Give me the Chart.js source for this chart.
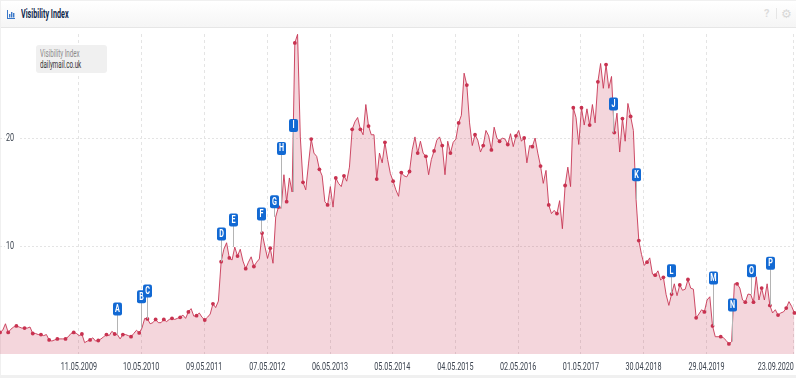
<!DOCTYPE html>
<html>
<head>
<meta charset="utf-8">
<script src="https://cdn.jsdelivr.net/npm/chart.js@4"></script>
<style>
  html, body { margin: 0; padding: 0; width: 796px; height: 378px; overflow: hidden; background: #f0f0f0; }
  #card { position: absolute; left: 1px; top: 1px; width: 795px; height: 374px; background: #fff; }
  #head {
    position: absolute; left: 0; top: 0; width: 795px; height: 26px;
    background: linear-gradient(#ffffff, #f5f5f5); border-bottom: 1px solid #e6e6e6;
  }
  #icon { position: absolute; left: 6px; top: 9px; }
  #title {
    position: absolute; left: 20px; top: 6px; font: bold 12px Roboto, sans-serif;
    color: #10294d; white-space: nowrap; transform: scaleX(0.6); transform-origin: left center;
  }
  #help { position: absolute; left: 763px; top: 6px; font: bold 11px Roboto, sans-serif; color: #dcdcdc; }
  #sep { position: absolute; left: 775px; top: 7px; width: 1px; height: 11px; background: #e6e6e6; }
  #gear { position: absolute; left: 780px; top: 6px; font: 12px "DejaVu Sans", sans-serif; color: #d8d8d8; }
  #wrap { position: absolute; left: 0; top: 0; width: 796px; height: 378px; }
  #legend {
    position: absolute; left: 36px; top: 45px; width: 71px; height: 28px; background: #f0f0f0;
    border-radius: 3px; font: 10px/11px Roboto, sans-serif;
  }
  #legend div { position: absolute; left: 4px; white-space: nowrap; transform: scaleX(0.62); transform-origin: left center; }
  #legend .a { top: 3px; color: #8a8a8a; }
  #legend .b { top: 14px; color: #333; }
</style>
</head>
<body>
<div id="card">
  <div id="head">
    <svg id="icon" width="9" height="9" viewBox="0 0 9 9">
      <rect x="0" y="0" width="1" height="9" fill="#3a78c9"/>
      <rect x="0" y="8" width="8" height="1" fill="#3a78c9"/>
      <rect x="2" y="4" width="1.4" height="3.5" fill="#3a78c9"/>
      <rect x="4" y="2" width="1.4" height="5.5" fill="#3a78c9"/>
      <rect x="6" y="3" width="1.4" height="4.5" fill="#3a78c9"/>
    </svg>
    <div id="title">Visibility Index</div>
    <div id="help">?</div>
    <div id="sep"></div>
    <div id="gear">⚙</div>
  </div>
</div>
<div id="wrap"><canvas id="chart" width="796" height="378"></canvas></div>
<div id="legend"><div class="a">Visibility Index</div><div class="b">dailymail.co.uk</div></div>

<script>
// sampled index values, three per marked dot
const visibility = [
  2.0, 2.2, 2.8,  2.0, 2.3, 2.5,  2.6, 2.5, 2.4,  2.4, 2.4, 2.5,
  1.9, 1.9, 1.8,  1.8, 1.7, 1.8,  1.3, 1.2, 1.3,  1.4, 1.4, 1.4,
  1.4, 1.6, 1.9,  2.0, 1.9, 1.7,  1.85, 1.05, 1.2,  1.3, 1.5, 1.2,
  1.25, 1.4, 1.6,  1.8, 1.7, 2.1,  1.85, 1.8, 1.4,  1.8, 1.8, 1.7,
  1.6, 1.9, 2.2,  1.95, 2.4, 3.3,  3.25, 2.8, 2.9,  3.2, 2.9, 2.9,
  3.2, 3.0, 3.2,  3.3, 3.2, 3.3,  3.4, 3.6, 3.3,  3.9, 4.2, 3.5,
  3.55, 3.8, 3.4,  3.15, 3.4, 3.7,  4.65, 4.3, 4.9,  8.55, 9.7, 10.3,
  8.9, 8.7, 9.9,  9.07, 9.7, 8.6,  7.9, 8.5, 9.0,  8.1, 8.5, 8.8,
  11.2, 10.0, 8.85,  9.8, 8.4, 12.7,  13.6, 13.5, 16.6,  14.1, 16.3, 15.0,
  28.8, 29.6, 20.1,  15.9, 15.2, 17.6,  19.9, 18.6, 18.3,  17.1, 16.5, 14.1,
  13.8, 15.5, 13.6,  16.3, 15.8, 15.5,  16.5, 16.0, 17.3,  20.8, 21.5, 21.9,
  20.8, 20.3, 23.1,  21.1, 20.3, 20.3,  16.2, 18.6, 17.7,  19.6, 18.0, 16.7,
  16.0, 15.2, 14.6,  16.8, 16.5, 16.4,  16.9, 18.9, 20.1,  18.6, 19.7, 18.6,
  18.3, 16.6, 18.0,  18.8, 19.8, 20.1,  19.3, 16.6, 19.7,  18.6, 19.6, 19.9,
  21.4, 22.1, 26.0,  24.9, 21.4, 19.3,  20.3, 19.8, 18.7,  19.3, 20.7, 20.2,
  18.9, 21.0, 20.0,  19.7, 20.0, 19.9,  19.4, 20.4, 19.2,  20.2, 20.7, 19.7,
  20.0, 17.7, 19.3,  19.2, 20.0, 18.6,  17.4, 15.8, 17.0,  13.8, 13.0, 13.3,
  13.0, 14.2, 11.6,  15.6, 17.3, 15.5,  22.8, 21.9, 19.4,  22.8, 21.2, 22.7,
  21.2, 23.1, 21.4,  25.2, 26.9, 24.6,  26.8, 24.6, 25.7,  20.5, 22.3, 18.7,
  21.8, 19.7, 23.2,  22.0, 20.7, 14.3,  10.5, 9.2, 8.2,  8.5, 8.9, 7.4,
  7.3, 7.7, 6.85,  7.1, 5.5, 4.5,  5.55, 6.5, 5.4,  6.4, 5.9, 6.0,
  6.9, 6.1, 6.0,  3.35, 3.7, 4.1,  3.9, 5.0, 5.3,  2.6, 1.6, 1.6,
  1.6, 1.5, 1.25,  0.93, 1.15, 6.5,  6.5, 6.1, 5.0,  4.8, 5.55, 5.5,
  4.8, 7.15, 5.0,  6.1, 5.0, 6.5,  4.5, 3.8, 4.1,  3.6, 3.8, 3.9,
  4.25, 4.85, 4.4,  3.8
];

const tickSamples = [0, 28.9, 51.7, 74.8, 97.9, 120.9, 143.7, 166.8, 189.8, 212.8, 235.7, 258.8, 290.8];
const tickLabels = ["", "11.05.2009", "10.05.2010", "09.05.2011", "07.05.2012", "06.05.2013", "05.05.2014",
  "04.05.2015", "02.05.2016", "01.05.2017", "30.04.2018", "29.04.2019", "23.09.2020"];

const flagLetters = ["A", "B", "C", "D", "E", "F", "G", "H", "I", "J", "K", "L", "M", "N", "O", "P"];
const flagSamples = [43, 51.8, 54, 81, 85.5, 95.6, 100.5, 103, 107.4, 224.5, 233, 245.7, 261, 268, 275, 282.2];
const flagLevels = [4.17, 5.3, 5.83, 11.1, 12.4, 12.96, 14.1, 19.03, 21.16, 23.15, 16.6, 7.7, 7.04, 4.54, 7.7, 8.4];

const canvas = document.getElementById("chart");

// the original uses a condensed face, none is installed, so squeeze all canvas text
const ctx2d = canvas.getContext("2d");
const plainFillText = ctx2d.fillText.bind(ctx2d);
ctx2d.fillText = (text, x, y) => plainFillText(text, x, y, ctx2d.measureText(text).width * 0.72);

const flagsPlugin = {
  id: "flags",
  afterDatasetsDraw(chart) {
    const { ctx, scales } = chart;
    ctx.save();
    flagLetters.forEach((letter, i) => {
      const x = Math.round(scales.x.getPixelForValue(flagSamples[i])) + 0.5;
      const cy = scales.y.getPixelForValue(flagLevels[i]);
      const tip = scales.y.getPixelForValue(visibility[Math.round(flagSamples[i])]);
      ctx.strokeStyle = "#b4b4b4";
      ctx.lineWidth = 1;
      ctx.beginPath();
      ctx.moveTo(x, cy);
      ctx.lineTo(x, tip);
      ctx.stroke();
      ctx.fillStyle = "#1269d3";
      ctx.beginPath();
      ctx.roundRect(x - 4.5, cy - 6.5, 9, 13, 2);
      ctx.fill();
      ctx.fillStyle = "#ffffff";
      ctx.font = "bold 10px Roboto, sans-serif";
      ctx.textAlign = "center";
      ctx.textBaseline = "middle";
      ctx.fillText(letter, x, cy + 0.5);
    });
    ctx.restore();
  },
};

new Chart(canvas, {
  type: "line",
  plugins: [flagsPlugin],
  data: {
    datasets: [{
      data: visibility.map((v, i) => ({ x: i, y: v })),
      borderColor: "rgba(200, 55, 85, 0.9)",
      borderWidth: 1,
      backgroundColor: "rgba(200, 50, 80, 0.2)",
      fill: "origin",
      tension: 0,
      pointRadius: (c) => (c.dataIndex % 3 === 0 ? 1.9 : 0),
      pointBackgroundColor: "rgb(200, 50, 80)",
      pointBorderWidth: 0,
    }],
  },
  options: {
    responsive: false,
    animation: false,
    events: [],
    layout: { autoPadding: false, padding: { top: 34, left: 0, right: 0, bottom: 0 } },
    plugins: { legend: { display: false }, tooltip: { enabled: false }, title: { display: false } },
    scales: {
      x: {
        type: "linear",
        min: 0,
        max: 796 / 2.73,
        afterBuildTicks: (s) => { s.ticks = tickSamples.map((v) => ({ value: v })); },
        afterFit: (s) => { s.height = 24; s.paddingLeft = 0; s.paddingRight = 0; },
        border: { display: false, dash: [3, 3] },
        grid: {
          color: (c) => (c.index === 0 ? "transparent" : "#e4e4e4"),
          drawTicks: false,
        },
        ticks: {
          autoSkip: false,
          maxRotation: 0,
          align: "inner",
          padding: 7,
          color: "#3c4450",
          font: { family: "Roboto", size: 10 },
          callback: (v, i) => tickLabels[i],
        },
      },
      y: {
        min: 0,
        max: 320 / 10.8,
        afterBuildTicks: (s) => { s.ticks = [{ value: 10 }, { value: 20 }]; },
        afterFit: (s) => { s.width = 0; s.paddingTop = 0; s.paddingBottom = 0; },
        border: { display: false, dash: [2, 2] },
        grid: { color: "#e4e4e4", drawTicks: false },
        ticks: {
          mirror: true,
          padding: 6,
          color: "#3c4450",
          font: { family: "Roboto", size: 10 },
          showLabelBackdrop: true,
          backdropColor: "#fff",
          backdropPadding: 1,
        },
      },
    },
  },
});
</script>
</body>
</html>
